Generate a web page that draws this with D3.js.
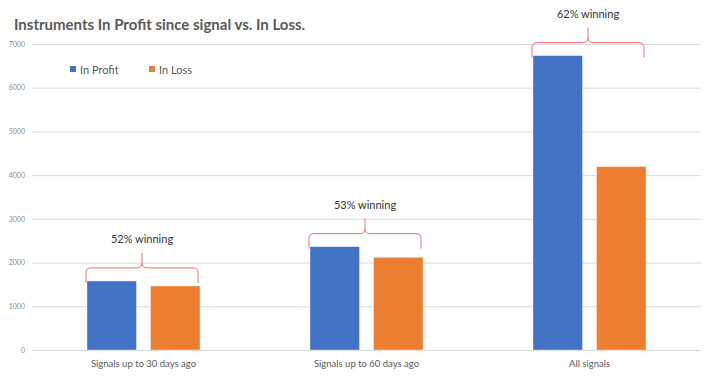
<!DOCTYPE html>
<html>
<head>
<meta charset="utf-8">
<script src="https://cdn.jsdelivr.net/npm/d3@7"></script>
<style>
  html, body { margin: 0; padding: 0; background: #fff; }
  svg { display: block; }
</style>
</head>
<body>
<svg id="chart" width="707" height="376"></svg>
<script>
// Signal outcome counts per look-back window
const categories = ["Signals up to 30 days ago", "Signals up to 60 days ago", "All signals"];
const seriesNames = ["In Profit", "In Loss"];
const inProfit = [1580, 2365, 6735];
const inLoss = [1465, 2120, 4195];
const winLabels = ["52% winning", "53% winning", "62% winning"];
const yTicks = [0, 1000, 2000, 3000, 4000, 5000, 6000, 7000];

const colors = { "In Profit": "#4472C4", "In Loss": "#ED7D31" };
const font = "Lato, 'Open Sans', sans-serif";

const svg = d3.select("#chart");
const margin = { left: 32, right: 6, top: 44, bottom: 26 };
const W = 707, H = 376;

const y = d3.scaleLinear().domain([0, 7000]).range([H - margin.bottom, margin.top]);
const x0 = d3.scaleBand().domain(categories)
  .range([margin.left, W - margin.right])
  .paddingInner(0.493).paddingOuter(0.2465);
const x1 = d3.scaleBand().domain(seriesNames)
  .range([0, x0.bandwidth()]).paddingInner(0.22);

// Gridlines and y labels
const yAxis = d3.axisLeft(y).tickValues(yTicks).tickFormat(d3.format("d"))
  .tickSize(-(W - margin.right - margin.left)).tickPadding(7);
const gy = svg.append("g").attr("transform", `translate(${margin.left},0)`).call(yAxis);
gy.select(".domain").remove();
gy.selectAll(".tick line").attr("stroke", "#d9d9d9").attr("stroke-width", 1);
gy.selectAll(".tick text").attr("fill", "#8c8c8c").style("font-family", font).style("font-size", "7px");

// Bars
const rows = categories.map((c, i) => ({ cat: c, values: [
  { key: "In Profit", value: inProfit[i] },
  { key: "In Loss", value: inLoss[i] }
]}));

const groups = svg.append("g").selectAll("g").data(rows).join("g")
  .attr("transform", d => `translate(${x0(d.cat)},0)`);
groups.selectAll("rect").data(d => d.values).join("rect")
  .attr("x", d => x1(d.key))
  .attr("width", x1.bandwidth())
  .attr("y", d => y(d.value))
  .attr("height", d => y(0) - y(d.value))
  .attr("fill", d => colors[d.key])
  .attr("stroke", "rgba(255,255,255,0.5)")
  .attr("stroke-width", 0.8);

// Category labels
const gx = svg.append("g").attr("transform", `translate(0,${y(0)})`)
  .call(d3.axisBottom(x0).tickSize(0).tickPadding(10));
gx.select(".domain").remove();
gx.selectAll(".tick text").attr("fill", "#595959").style("font-family", font).style("font-size", "9.5px");

// Curly brackets with win-rate labels
const r = 5, tip = 15, peak = 15;
rows.forEach((d, i) => {
  const xa = x0(d.cat) - 1, xb = x0(d.cat) + x0.bandwidth() - 2;
  const xm = (xa + xb) / 2;
  const top = y(d3.max(d.values, v => v.value)) - 13;
  const p = d3.path();
  p.moveTo(xa, top + tip);
  p.lineTo(xa, top + r);
  p.quadraticCurveTo(xa, top, xa + r, top);
  p.lineTo(xm - r, top);
  p.quadraticCurveTo(xm, top, xm, top - r);
  p.lineTo(xm, top - peak);
  p.moveTo(xm, top - r);
  p.quadraticCurveTo(xm, top, xm + r, top);
  p.lineTo(xb - r, top);
  p.quadraticCurveTo(xb, top, xb, top + r);
  p.lineTo(xb, top + tip);
  svg.append("path").attr("d", p.toString())
    .attr("fill", "none").attr("stroke", "#e57373").attr("stroke-width", 1);
  const ly = Math.max(17, top - peak - 10);
  svg.append("text").attr("x", xm).attr("y", ly)
    .attr("text-anchor", "middle").attr("fill", "#333")
    .style("font-family", font).style("font-size", "11px")
    .text(winLabels[i]);
});

// Title
svg.append("text").attr("x", 14).attr("y", 30)
  .attr("fill", "#595959").style("font-family", font)
  .style("font-size", "15px").style("font-weight", "bold")
  .text("Instruments In Profit since signal vs. In Loss.");

// Legend
const legend = svg.append("g");
const legendX = [70, 149];
seriesNames.forEach((s, i) => {
  legend.append("rect").attr("x", legendX[i]).attr("y", 66).attr("width", 6).attr("height", 6).attr("fill", colors[s]);
  legend.append("text").attr("x", legendX[i] + 10).attr("y", 73.5)
    .attr("fill", "#595959").style("font-family", font).style("font-size", "11px").text(s);
});
</script>
</body>
</html>
